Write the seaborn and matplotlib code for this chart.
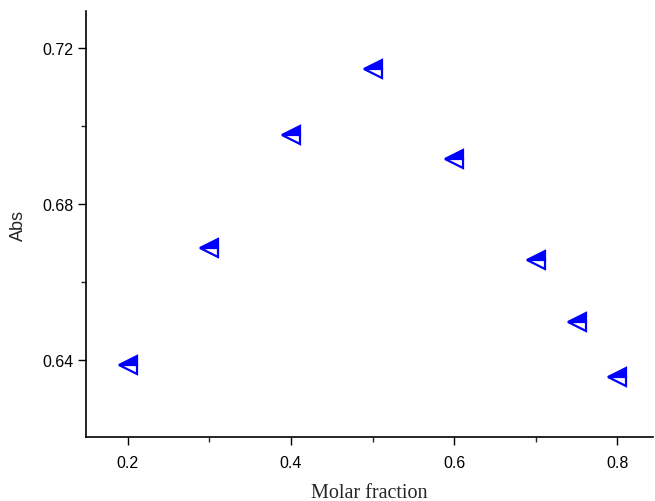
import matplotlib
matplotlib.use("Agg")
import matplotlib.pyplot as plt
import seaborn as sns
import pandas as pd
from matplotlib.ticker import MultipleLocator

molar_fraction = [0.2, 0.3, 0.4, 0.5, 0.6, 0.7, 0.75, 0.8]
absorbance = [0.6387, 0.6687, 0.6977, 0.7146, 0.6915, 0.6656, 0.6497, 0.6356]
x_ticks = [0.2, 0.4, 0.6, 0.8]
y_ticks = [0.64, 0.68, 0.72]

df = pd.DataFrame({"Molar fraction": molar_fraction, "Abs": absorbance})

sns.set_style("ticks")
plt.rcParams["font.family"] = ["Liberation Sans", "DejaVu Sans"]

fig = plt.figure(figsize=(6.55, 5.02), dpi=100)
ax = fig.add_axes([0.1313, 0.1275, 0.866, 0.8485])

sns.lineplot(data=df, x="Molar fraction", y="Abs", ax=ax, linestyle="",
             marker="<", markersize=13, color="blue", markeredgecolor="blue",
             markerfacecolor="blue", fillstyle="top", markerfacecoloralt="white",
             markeredgewidth=1.6)

ax.set_xlim(0.1487, 0.844)
ax.set_ylim(0.6203, 0.7295)
ax.set_xticks(x_ticks)
ax.set_yticks(y_ticks)
ax.set_xticklabels([f"{v:.1f}" for v in x_ticks])
ax.set_yticklabels([f"{v:.2f}" for v in y_ticks])
ax.xaxis.set_minor_locator(MultipleLocator(0.1))
ax.yaxis.set_minor_locator(MultipleLocator(0.02))

ax.tick_params(which="major", direction="out", length=6, width=1, labelsize=11.5, colors="black")
ax.tick_params(which="minor", direction="out", length=3.5, width=1)
ax.tick_params(axis="x", pad=7)
ax.tick_params(axis="y", pad=3)

for side in ["top", "right"]:
    ax.spines[side].set_visible(False)
for side in ["left", "bottom"]:
    ax.spines[side].set_linewidth(1.2)
    ax.spines[side].set_color("black")

ax.set_xlabel("Molar fraction", fontfamily="Liberation Serif", fontsize=14.5, labelpad=9)
ax.set_ylabel("Abs", fontfamily="Liberation Sans", fontsize=13, labelpad=11)

fig.savefig("out.png", dpi=100)
